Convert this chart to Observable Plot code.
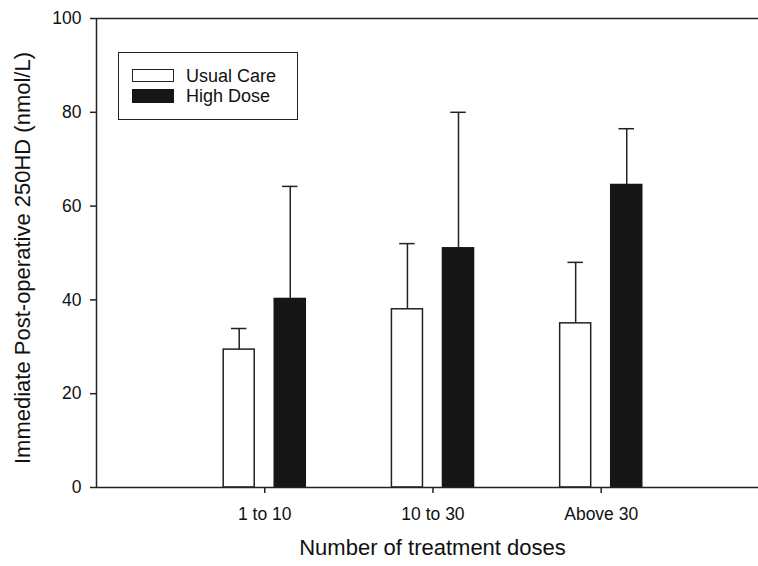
<!DOCTYPE html>
<html>
<head>
<meta charset="utf-8">
<script src="https://cdn.jsdelivr.net/npm/d3@7"></script>
<script src="https://cdn.jsdelivr.net/npm/@observablehq/plot@0.6"></script>
<style>
  body { margin: 0; background: #fff; font-family: "Liberation Sans", Arial, sans-serif; }
  #wrap { position: relative; width: 758px; height: 566px; overflow: hidden; }
  .lg-box { position: absolute; left: 118px; top: 52px; width: 180px; height: 68px; border: 1.5px solid #222; box-sizing: border-box; background: #fff; }
  .sw { position: absolute; left: 132px; width: 42px; box-sizing: border-box; }
  .lg-text { position: absolute; left: 186px; font-size: 18px; line-height: 18px; color: #111; white-space: nowrap; }
</style>
</head>
<body>
<div id="wrap"></div>
<script>
// ---- data ----
const categories = ["1 to 10", "10 to 30", "Above 30"];
const series = ["Usual Care", "High Dose"];
const usualCare = [29.4, 38.0, 35.0];
const usualCareUpper = [33.9, 52.0, 48.0];
const highDose = [40.2, 51.0, 64.5];
const highDoseUpper = [64.2, 80.0, 76.5];
const yTicks = [0, 20, 40, 60, 80, 100];
const xTitle = "Number of treatment doses";
const yTitle = "Immediate Post-operative 250HD (nmol/L)";

// ---- layout constants (not data) ----
const barOuter = 0.244, barInner = 0.0595, capHalf = 0.046;
const fills = {"Usual Care": "#ffffff", "High Dose": "#161616"};

const values = {"Usual Care": usualCare, "High Dose": highDose};
const uppers = {"Usual Care": usualCareUpper, "High Dose": highDoseUpper};
const rows = series.flatMap((s, si) => categories.map((c, i) => ({
  series: s, cat: c, pos: i + 1, side: si === 0 ? -1 : 1,
  value: values[s][i], upper: uppers[s][i]
})));
const left = d => d.side < 0 ? d.pos - barOuter : d.pos + barInner;
const right = d => d.side < 0 ? d.pos - barInner : d.pos + barOuter;
const mid = d => (left(d) + right(d)) / 2;

const ink = "#222";
const chart = Plot.plot({
  width: 758, height: 566,
  marginLeft: 96, marginRight: 0, marginTop: 18, marginBottom: 79,
  style: {fontFamily: "'Liberation Sans', Arial, sans-serif", fontSize: "17.5px", color: "#111", background: "white", overflow: "visible"},
  x: {type: "linear", domain: [0, 3.935]},
  y: {domain: [0, 100]},
  marks: [
    Plot.ruleX(rows, {x: mid, y1: "value", y2: "upper", stroke: ink, strokeWidth: 1.5}),
    Plot.ruleY(rows, {y: "upper", x1: d => mid(d) - capHalf, x2: d => mid(d) + capHalf, stroke: ink, strokeWidth: 1.5}),
    Plot.rect(rows, {x1: left, x2: right, y1: d => 0, y2: "value", fill: d => fills[d.series], stroke: d => d.series === "High Dose" ? "#161616" : ink, strokeWidth: 1.5}),
    Plot.ruleX([0], {stroke: ink, strokeWidth: 1.5}),
    Plot.ruleY([0, 100], {stroke: ink, strokeWidth: 1.5}),
    Plot.axisY({ticks: yTicks, tickSize: 6, tickPadding: 9, label: null, stroke: ink, strokeWidth: 1.5, fontSize: 17.5}),
    Plot.axisX({ticks: [1, 2, 3], tickFormat: d => categories[d - 1], tickSize: 6, tickPadding: 14, label: null, stroke: ink, strokeWidth: 1.5, fontSize: 17.5}),
    Plot.text([xTitle], {text: d => d, frameAnchor: "bottom", dy: 67, dx: 5, fontSize: 22, fill: "#111"}),
    Plot.text([yTitle], {text: d => d, frameAnchor: "left", textAnchor: "middle", rotate: -90, dx: -74, dy: 5, fontSize: 22, fill: "#111"})
  ]
});

const wrap = document.getElementById("wrap");
wrap.appendChild(chart);

// legend (HTML overlay inside plot area)
const box = document.createElement("div");
box.className = "lg-box";
wrap.appendChild(box);
const swTops = [69, 89], swHeights = [13, 14], txtTops = [67, 87];
series.forEach((s, i) => {
  const sw = document.createElement("div");
  sw.className = "sw";
  sw.style.top = swTops[i] + "px";
  sw.style.height = swHeights[i] + "px";
  sw.style.background = fills[s];
  sw.style.border = "1.5px solid " + (i === 0 ? ink : "#161616");
  wrap.appendChild(sw);
  const t = document.createElement("div");
  t.className = "lg-text";
  t.style.top = txtTops[i] + "px";
  t.textContent = s;
  wrap.appendChild(t);
});
</script>
</body>
</html>
